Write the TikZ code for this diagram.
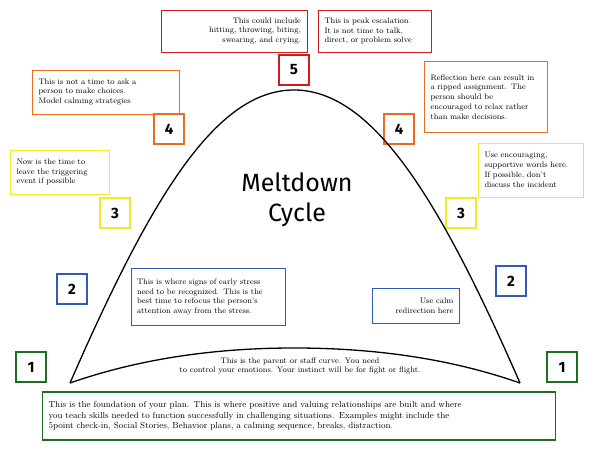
\documentclass[tikz,border=0pt]{standalone}
\usepackage{fontspec}
\setsansfont{Fira Sans}
\usetikzlibrary{positioning}
\tikzset{
  num/.style={draw,line width=1.4pt,minimum size=30pt,inner sep=0pt,font=\fontsize{15}{15}\selectfont\bfseries\sffamily},
  note/.style={draw,line width=1pt,align=left,inner xsep=6pt,inner ysep=3pt,font=\fontsize{8}{9.8}\selectfont},
  curve/.style={line width=1.3pt}
}
\definecolor{cgreen}{RGB}{30,110,30}
\definecolor{cblue}{RGB}{50,90,190}
\definecolor{cyel}{RGB}{240,235,40}
\definecolor{corange}{RGB}{230,110,30}
\definecolor{cred}{RGB}{200,30,30}
\begin{document}
\begin{tikzpicture}[x=1pt,y=-1pt]
\useasboundingbox (0,0) rectangle (600,450);

% number boxes
\node[num,draw=cgreen] (l1) at (31,367) {1};
\node[num,draw=cgreen] (r1) at (562,367) {1};
\node[num,draw=cblue] (l2) at (72,289) {2};
\node[num,draw=cblue] (r2) at (511,281) {2};
\node[num,draw=cyel] (l3) at (115,213) {3};
\node[num,draw=cyel] (r3) at (461,213) {3};
\node[num,draw=corange] (l4) at (169,129) {4};
\node[num,draw=corange] (r4) at (399,129) {4};
\node[num,draw=cred] (p5) at (294,70) {5};

% curves
\coordinate (cl) at (70,383);
\coordinate (cr) at (520,383);
\draw[curve] (cl) .. controls (150,200) and (215,90) .. (294,90) .. controls (373,90) and (440,200) .. (cr);
\draw[curve] (cl) .. controls (150,355) and (230,348) .. (294,348) .. controls (360,348) and (440,355) .. (cr);

% title
\node[font=\fontsize{25}{30}\selectfont\sffamily,align=center] (title) at (297,200) {Meltdown\\Cycle};

% notes
\node[note,draw=cred,align=right,text width=134pt,minimum height=42pt] (n5l) at (234,31) {This could include\\hitting, throwing, biting,\\swearing, and crying.};
\node[note,draw=cred,text width=101pt,minimum height=42pt] (n5r) at (375,31) {This is peak escalation.\\It is not time to talk,\\direct, or problem solve};
\node[note,draw=corange,text width=135pt,minimum height=44pt] (n4l) at (106,92) {This is not a time to ask a\\person to make choices.\\Model calming strategies};
\node[note,draw=corange,text width=111pt,minimum height=71pt] (n4r) at (486,97) {Reflection here can result in\\a ripped assignment. The\\person should be\\encouraged to relax rather\\than make decisions.};
\node[note,draw=cyel,text width=87pt,minimum height=44pt] (n3l) at (60,172) {Now is the time to\\leave the triggering\\event if possible};
\node[note,draw=cyel,text width=93pt,minimum height=54pt] (n3r) at (531,170) {Use encouraging,\\supportive words here.\\If possible, don't\\discuss the incident};
\node[note,draw=cblue,text width=142pt,minimum height=57pt] (n2l) at (208,297) {This is where signs of early stress\\need to be recognized.  This is the\\best time to refocus the person's\\attention away from the stress.};
\node[note,draw=cblue,align=right,text width=75pt,minimum height=35pt] (n2r) at (416,306) {Use calm\\redirection here};
\node[note,draw=none,align=center] (staff) at (300,366) {This is the parent or staff curve.  You need\\to control your emotions.  Your instinct will be for fight or flight.};
\node[note,draw=cgreen,line width=1.4pt,text width=501pt,minimum height=48pt,font=\fontsize{8.8}{10.6}\selectfont] (n1) at (299,416) {This is the foundation of your plan.  This is where positive and valuing relationships are built and where\\you teach skills needed to function successfully in challenging situations.  Examples might include the\\5point check-in, Social Stories, Behavior plans, a calming sequence, breaks, distraction.};
\end{tikzpicture}
\end{document}
